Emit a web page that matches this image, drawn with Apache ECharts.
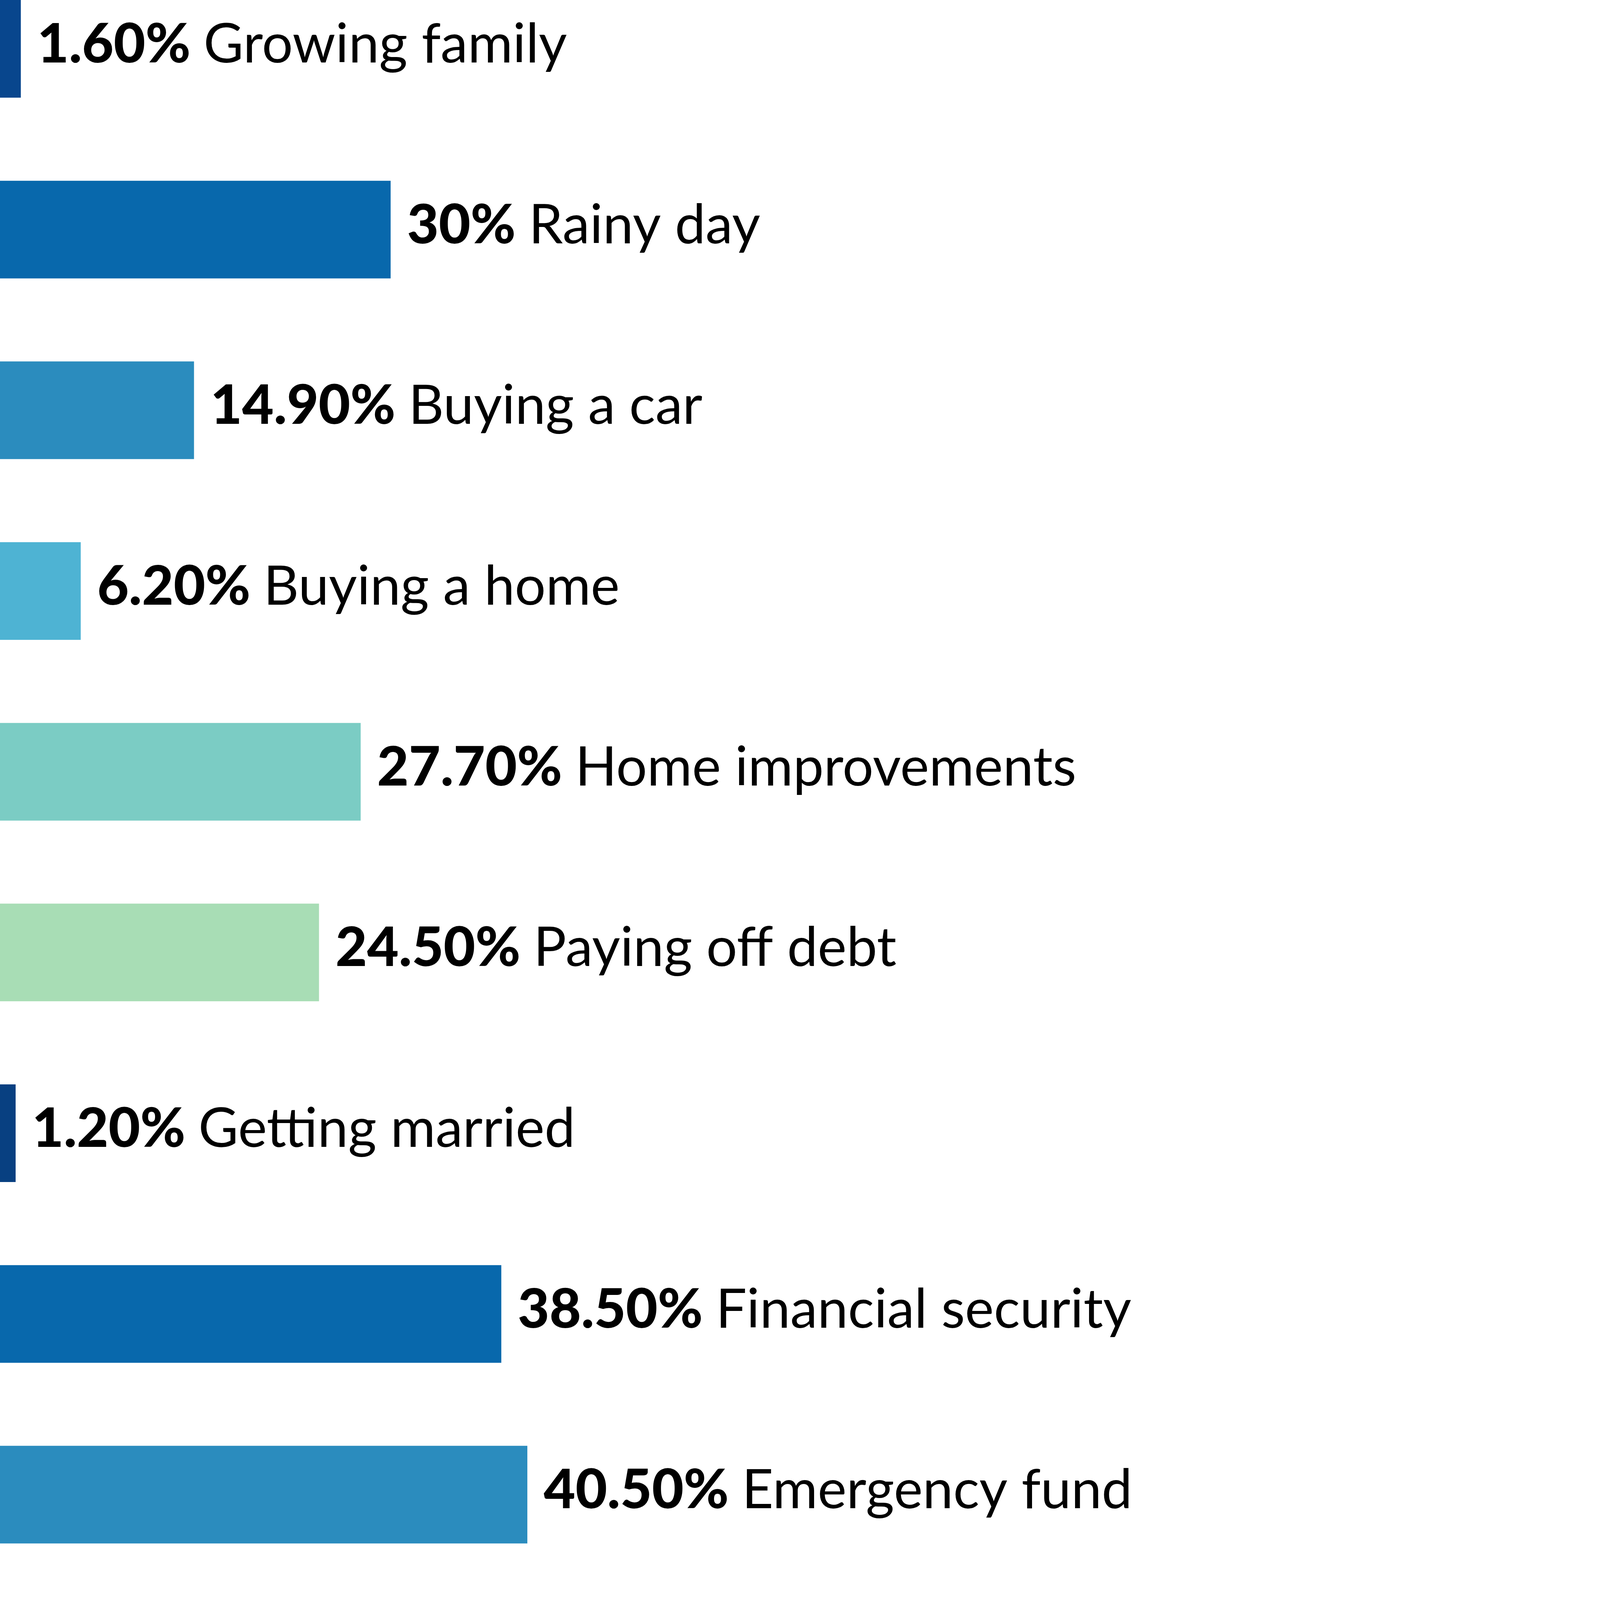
<!DOCTYPE html>
<html>
<head>
<meta charset="utf-8">
<script src="https://cdn.jsdelivr.net/npm/echarts@6/dist/echarts.min.js"></script>
<style>
html,body{margin:0;padding:0;background:#fff;}
#chart{width:4296px;height:5802px;}
</style>
</head>
<body>
<div id="chart"></div>
<script>
const categories = ["Growing family","Rainy day","Buying a car","Buying a home","Home improvements","Paying off debt","Getting married","Financial security","Emergency fund","Medical","Travel","Retirement","Education/college fund"];
const values = [1.6,30,14.9,6.2,27.7,24.5,1.2,38.5,40.5,14.2,32.6,42.9,5.2];
const palette = ["#084081","#0868ac","#2b8cbe","#4eb3d3","#7bccc4","#a8ddb5"];

function fmt(v){ return (Number.isInteger(v) ? v : v.toFixed(2)) + '%'; }

const chart = echarts.init(document.getElementById('chart'), null, {renderer:'canvas'});
chart.setOption({
  animation:false,
  backgroundColor:'#ffffff',
  grid:{left:0, top:125, bottom:125, width:3333.33, containLabel:false},
  xAxis:{type:'value', min:0, max:100, show:false},
  yAxis:{type:'category', data:categories, inverse:true, boundaryGap:false, show:false},
  series:[{
    type:'bar',
    barWidth:250,
    clip:false,
    data: values.map((v,i)=>({value:v, itemStyle:{color:palette[i%palette.length]}})),
    label:{
      show:true,
      position:'right',
      distance:42,
      offset:[0,-10],
      formatter:(p)=>'{b|'+fmt(p.value)+' }{n|'+categories[p.dataIndex]+'}',
      rich:{
        b:{fontFamily:'Lato', fontWeight:900, fontSize:140, color:'#000'},
        n:{fontFamily:'Lato', fontWeight:'normal', fontSize:140, color:'#000'}
      }
    }
  }]
});
</script>
</body>
</html>
